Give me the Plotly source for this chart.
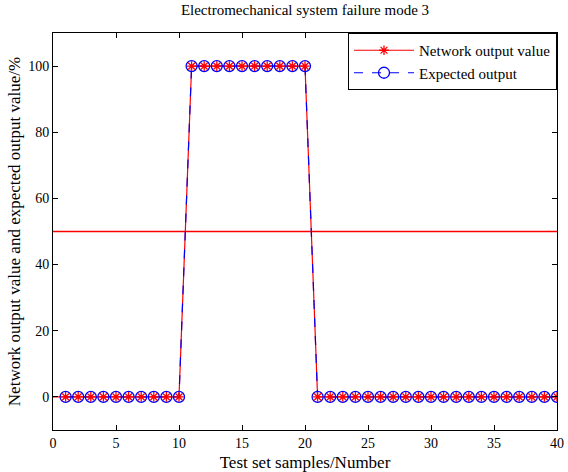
import plotly.graph_objects as go

samples = list(range(1, 41))
network_output = [0]*10 + [100]*10 + [0]*20
expected_output = [0]*10 + [100]*10 + [0]*20
threshold_x = [0, 40]
threshold_y = [50, 50]
lead_x = [0, 1]
lead_y = [0, 0]

font = dict(family="Liberation Serif, Times New Roman, serif", size=14, color="black")

fig = go.Figure()
fig.add_trace(go.Scatter(x=threshold_x, y=threshold_y, mode="lines",
                         line=dict(color="#ff0000", width=1.4), showlegend=False, hoverinfo="skip"))
fig.add_trace(go.Scatter(x=lead_x, y=lead_y, mode="lines",
                         line=dict(color="#ff0000", width=1.2), showlegend=False, hoverinfo="skip"))
fig.add_trace(go.Scatter(x=samples, y=network_output, mode="lines",
                         line=dict(color="red", width=1.2), showlegend=False))
fig.add_trace(go.Scatter(x=samples, y=expected_output, mode="lines+markers",
                         name="Expected output",
                         line=dict(color="blue", width=1.2, dash="dash"),
                         marker=dict(symbol="circle-open", size=11, color="blue",
                                     line=dict(color="blue", width=1.3)),
                         showlegend=False))
fig.add_trace(go.Scatter(x=samples, y=network_output, mode="markers",
                         marker=dict(symbol="asterisk-open", size=8, color="red",
                                     line=dict(color="red", width=1.3)),
                         showlegend=False))
# legend proxies
fig.add_trace(go.Scatter(x=[None], y=[None], mode="lines+markers", name="Network output value",
                         line=dict(color="red", width=1.2),
                         marker=dict(symbol="asterisk-open", size=8, color="red",
                                     line=dict(color="red", width=1.3))))
fig.add_trace(go.Scatter(x=[None], y=[None], mode="lines+markers", name="Expected output",
                         line=dict(color="blue", width=1.2, dash="dash"),
                         marker=dict(symbol="circle-open", size=11, color="blue",
                                     line=dict(color="blue", width=1.3))))

axis_common = dict(showgrid=False, zeroline=False, showline=True, linecolor="black",
                   linewidth=1, mirror="ticks", ticks="inside", ticklen=5,
                   tickcolor="black", tickfont=font, automargin=False)

fig.update_layout(
    width=568, height=472,
    margin=dict(l=53, r=11, t=33, b=42),
    paper_bgcolor="white", plot_bgcolor="white",
    font=font,
    title=dict(text="Electromechanical system failure mode 3", x=0.5, xanchor="center",
               xref="paper", y=0.99, yanchor="top", font=dict(size=15)),
    xaxis=dict(range=[0, 40], tickvals=[0, 5, 10, 15, 20, 25, 30, 35, 40],
               title=dict(text="Test set samples/Number", standoff=6), **axis_common),
    yaxis=dict(range=[-10, 110], tickvals=[0, 20, 40, 60, 80, 100],
               title=dict(text="Network output value and expected output value/%", standoff=3),
               **axis_common),
    legend=dict(x=1, xanchor="right", y=1, yanchor="top", bgcolor="white",
                bordercolor="black", borderwidth=1, font=dict(size=15),
                tracegroupgap=0, itemwidth=60),
    showlegend=True,
)

fig.write_html("out.html")
